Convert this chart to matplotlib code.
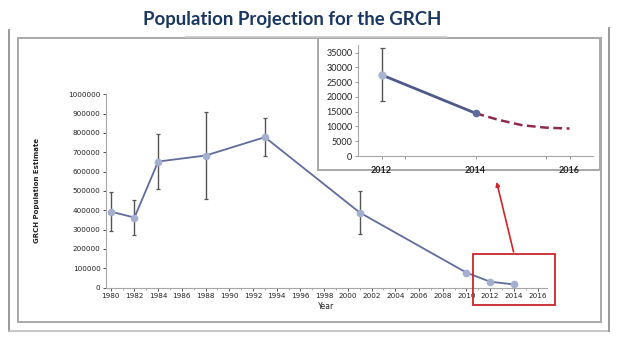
import matplotlib
matplotlib.use("Agg")
import matplotlib.pyplot as plt
from matplotlib.patches import Rectangle
from matplotlib.lines import Line2D

# ---- data ----
years = [1980, 1982, 1984, 1988, 1993, 2001, 2010, 2012, 2014]
population = [393000, 362000, 652000, 683000, 778000, 388000, 77000, 30000, 16000]
pop_err = [100000, 92000, 140000, 227000, 98000, 110000, 0, 0, 0]
main_xticks = list(range(1980, 2017, 2))
main_yticks = list(range(0, 1000001, 100000))

inset_years = [2012, 2014]
inset_pop = [27500, 14500]
inset_err = [9000, 0]
proj_years = [2014, 2014.5, 2015, 2015.5, 2016]
proj_pop = [14500, 12200, 10400, 9600, 9300]
inset_xticks = [2012, 2014, 2016]
inset_yticks = list(range(0, 35001, 5000))

title = "Population Projection for the GRCH"

W, H = 635, 357
fig = plt.figure(figsize=(W / 100, H / 100), dpi=100)

def fx(px):
    return px / W

def fy(py):
    return 1 - py / H

line_col = "#5f6c9c"
mark_col = "#a3afcf"
err_col = "#555555"
spine_col = "#a6a6a6"

# ---- frames ----
frame_col = "#a8a8a8"
fig.add_artist(Line2D([fx(9), fx(9)], [fy(30), fy(331)], color="#9a9a9a", lw=1.4))
fig.add_artist(Line2D([fx(9), fx(609)], [fy(331), fy(331)], color="#bdbdbd", lw=1.2))
fig.add_artist(Line2D([fx(609), fx(609)], [fy(28), fy(331)], color="#9a9a9a", lw=1.4))
fig.add_artist(Line2D([fx(186), fx(446)], [fy(37), fy(37)], color="#c8c8c8", lw=1.2))
fig.add_artist(Rectangle((fx(18), fy(322)), fx(601) - fx(18), fy(38) - fy(322),
                         fill=False, edgecolor=frame_col, lw=1.4))

# ---- title ----
fig.text(fx(292), fy(19), title, ha="center", va="center", fontsize=13.4,
         fontweight="bold", color="#1b3760", family="Lato")

# ---- main axes ----
ax = fig.add_axes([fx(106), fy(287.5), fx(547) - fx(106), fy(94.3) - fy(287.5)])
ax.errorbar(years, population, yerr=pop_err, fmt="none", ecolor=err_col,
            elinewidth=1.0, capsize=1.5, capthick=0.9, zorder=2)
ax.plot(years, population, color=line_col, lw=1.3, zorder=3)
ax.plot(years, population, "o", ms=4.5, mfc=mark_col, mec=mark_col, zorder=4)
ax.set_xlim(1979.6, 2016.8)
ax.set_ylim(0, 1000000)
ax.set_xticks(main_xticks)
ax.set_xticklabels([str(t) for t in main_xticks])
ax.set_xticks(list(range(1980, 2017)), minor=True)
ax.set_yticks(main_yticks)
ax.set_yticklabels([str(t) for t in main_yticks])
ax.tick_params(axis="both", labelsize=5.2, colors="#333333", length=2, width=0.6, pad=2)
ax.tick_params(axis="x", which="minor", length=1.5, width=0.5, colors="#888888")
for lab in ax.get_xticklabels() + ax.get_yticklabels():
    lab.set_color("#222222")
for s in ["top", "right"]:
    ax.spines[s].set_visible(False)
for s in ["left", "bottom"]:
    ax.spines[s].set_color(spine_col)
    ax.spines[s].set_linewidth(0.8)
ax.set_xlabel("Year", fontsize=5.5, color="#222222", labelpad=2)
ax.set_ylabel("GRCH Population Estimate", fontsize=5, fontweight="bold",
              color="#222222", labelpad=20)

# red highlight box and arrow
ax.add_patch(Rectangle((2010.6, -90700), 6.9, 264300, fill=False,
                       edgecolor="#c8262c", lw=1.3, clip_on=False, zorder=5))
ax.annotate("", xy=(2012.55, 546600), xytext=(2013.98, 184000),
            xycoords="data", textcoords="data",
            arrowprops=dict(arrowstyle="-|>", color="#c8262c", lw=1.2,
                            mutation_scale=6, shrinkA=0, shrinkB=0),
            annotation_clip=False)

# ---- inset ----
fig.add_artist(Rectangle((fx(318), fy(170)), fx(600) - fx(318), fy(38) - fy(170),
                         facecolor="white", edgecolor=frame_col, lw=1.4, zorder=1))
iax = fig.add_axes([fx(358), fy(156), fx(593) - fx(358), fy(45) - fy(156)])
iax.set_zorder(3)
iax.patch.set_alpha(0)
iax.errorbar(inset_years, inset_pop, yerr=inset_err, fmt="none", ecolor=err_col,
             elinewidth=1.0, capsize=1.8, capthick=0.9, zorder=2)
iax.plot(proj_years, proj_pop, color="#8e2a4a", lw=1.8, ls=(0, (3.5, 1.8)), zorder=3)
iax.plot(inset_years, inset_pop, color="#4d5a8a", lw=2.0, zorder=3)
iax.plot(inset_years[0], inset_pop[0], "o", ms=5, mfc="#a9b4d0", mec="#a9b4d0", zorder=4)
iax.plot(inset_years[1], inset_pop[1], "o", ms=4.5, mfc="#5c6d9c", mec="#5c6d9c", zorder=4)
iax.set_xlim(2011.5, 2016.5)
iax.set_ylim(0, 37600)
iax.set_xticks(inset_xticks)
iax.set_xticklabels([str(t) for t in inset_xticks], fontweight="bold")
iax.set_yticks(inset_yticks)
iax.set_yticklabels([str(t) for t in inset_yticks])
iax.set_xticks([2012.5, 2015.5], minor=True)
iax.tick_params(axis="both", labelsize=6.5, length=2, width=0.6, pad=2,
                colors="#888888", labelcolor="#222222")
iax.tick_params(axis="x", which="minor", length=2, width=0.6, colors="#888888")
iax.tick_params(axis="x", pad=5)
for lab in iax.get_xticklabels() + iax.get_yticklabels():
    lab.set_family("Lato")
for s in ["top", "right"]:
    iax.spines[s].set_visible(False)
for s in ["left", "bottom"]:
    iax.spines[s].set_color(spine_col)
    iax.spines[s].set_linewidth(0.8)

fig.savefig("out.png", dpi=100, facecolor="white")
